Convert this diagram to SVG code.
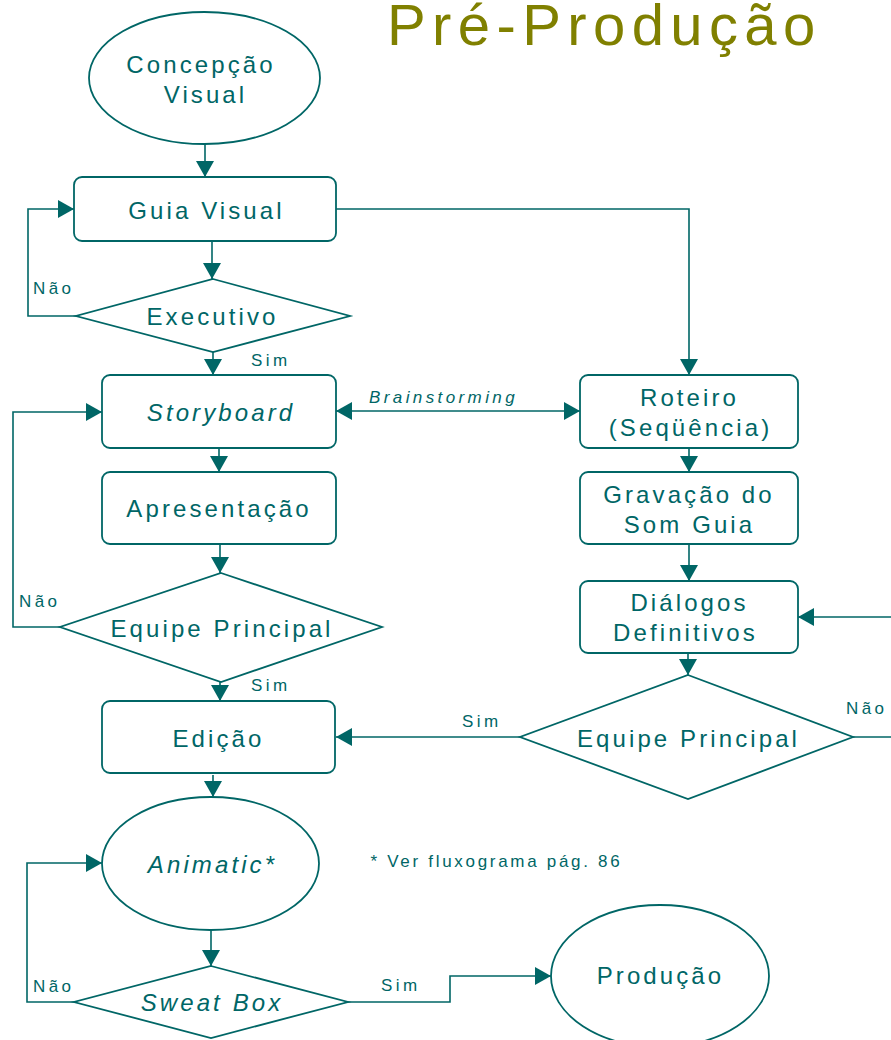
<svg xmlns="http://www.w3.org/2000/svg" width="891" height="1040" viewBox="0 0 891 1040">
  <style>
    .shape { fill: #ffffff; stroke: #006666; stroke-width: 1.8; }
    .wire { fill: none; stroke: #006666; stroke-width: 1.6; }
    .t { font-family: "Liberation Sans", Arial, sans-serif; fill: #006666; font-size: 24px; letter-spacing: 3.1px; text-anchor: middle; }
    .lbl { font-family: "Liberation Sans", Arial, sans-serif; fill: #006666; font-size: 17px; letter-spacing: 3.4px; }
    .it { font-style: italic; }
    .title { font-family: "Liberation Sans", Arial, sans-serif; fill: #808000; font-size: 58px; letter-spacing: 6.4px; }
  </style>
  <defs>
    <marker id="arrow" viewBox="0 0 16 18" refX="16" refY="9" markerWidth="16" markerHeight="18" markerUnits="userSpaceOnUse" orient="auto-start-reverse">
      <path d="M0,0 L16,9 L0,18 z" fill="#006666"/>
    </marker>
  </defs>

  <text class="title" x="387" y="45">Pré-Produção</text>

  <!-- connectors -->
  <g id="connectors">
    <path class="wire" d="M205,144 V177" marker-end="url(#arrow)"/>
    <path class="wire" d="M212,241 V279" marker-end="url(#arrow)"/>
    <path class="wire" d="M76,316 H28 V209 H74" marker-end="url(#arrow)"/>
    <path class="wire" d="M213,352 V375" marker-end="url(#arrow)"/>
    <path class="wire" d="M336,209 H689 V375" marker-end="url(#arrow)"/>
    <path class="wire" d="M336,411 H580" marker-start="url(#arrow)" marker-end="url(#arrow)"/>
    <path class="wire" d="M219,448 V472" marker-end="url(#arrow)"/>
    <path class="wire" d="M220,544 V573" marker-end="url(#arrow)"/>
    <path class="wire" d="M60,627 H13 V412 H102" marker-end="url(#arrow)"/>
    <path class="wire" d="M220,682 V701" marker-end="url(#arrow)"/>
    <path class="wire" d="M689,448 V472" marker-end="url(#arrow)"/>
    <path class="wire" d="M689,544 V581" marker-end="url(#arrow)"/>
    <path class="wire" d="M688,653 V675" marker-end="url(#arrow)"/>
    <path class="wire" d="M520,737 H336" marker-end="url(#arrow)"/>
    <path class="wire" d="M853,737 H891"/>
    <path class="wire" d="M891,617 H798" marker-end="url(#arrow)"/>
    <path class="wire" d="M213,775 V797" marker-end="url(#arrow)"/>
    <path class="wire" d="M211,930 V966" marker-end="url(#arrow)"/>
    <path class="wire" d="M74,1002 H27 V863 H102" marker-end="url(#arrow)"/>
    <path class="wire" d="M348,1002 H450 V976 H551" marker-end="url(#arrow)"/>

    <text class="lbl" x="33" y="294">Não</text>
    <text class="lbl" x="251" y="366">Sim</text>
    <text class="lbl it" x="369" y="403">Brainstorming</text>
    <text class="lbl" x="19" y="607">Não</text>
    <text class="lbl" x="251" y="691">Sim</text>
    <text class="lbl" x="462" y="727">Sim</text>
    <text class="lbl" x="846" y="714">Não</text>
    <text class="lbl" x="33" y="992">Não</text>
    <text class="lbl" x="381" y="991">Sim</text>
  </g>

  <g id="concepcao">
    <ellipse class="shape" cx="204.5" cy="78" rx="115.5" ry="66"/>
    <text class="t" x="201" y="73">Concepção</text>
    <text class="t" x="205.5" y="103">Visual</text>
  </g>

  <g id="guia-visual">
    <rect class="shape" x="74" y="177" width="262" height="64" rx="8"/>
    <text class="t" x="206.5" y="219">Guia Visual</text>
  </g>

  <g id="executivo">
    <polygon class="shape" points="213,279 350,316 213,352 76,316"/>
    <text class="t" x="212.5" y="325">Executivo</text>
  </g>

  <g id="storyboard">
    <rect class="shape" x="102" y="375" width="234" height="73" rx="8"/>
    <text class="t it" x="221" y="421">Storyboard</text>
  </g>

  <g id="apresentacao">
    <rect class="shape" x="102" y="472" width="234" height="72" rx="8"/>
    <text class="t" x="219" y="517">Apresentação</text>
  </g>

  <g id="equipe-principal-1">
    <polygon class="shape" points="221,573 382,627 221,682 60,627"/>
    <text class="t" x="222" y="637">Equipe Principal</text>
  </g>

  <g id="edicao">
    <rect class="shape" x="102" y="701" width="233" height="72" rx="8"/>
    <text class="t" x="218.5" y="747">Edição</text>
  </g>

  <g id="animatic">
    <ellipse class="shape" cx="210.5" cy="863.5" rx="108.5" ry="66.5"/>
    <text class="t it" x="212.5" y="873">Animatic*</text>
  </g>

  <g id="sweat-box">
    <polygon class="shape" points="211,966 348,1002 211,1038 74,1002"/>
    <text class="t it" x="212" y="1011">Sweat Box</text>
  </g>

  <g id="producao">
    <ellipse class="shape" cx="660" cy="976" rx="109" ry="71"/>
    <text class="t" x="660.5" y="984">Produção</text>
  </g>

  <g id="roteiro">
    <rect class="shape" x="580" y="375" width="218" height="73" rx="8"/>
    <text class="t" x="689.5" y="406">Roteiro</text>
    <text class="t" x="690.5" y="436">(Seqüência)</text>
  </g>

  <g id="gravacao">
    <rect class="shape" x="580" y="472" width="218" height="72" rx="8"/>
    <text class="t" x="689" y="503">Gravação do</text>
    <text class="t" x="689.5" y="533">Som Guia</text>
  </g>

  <g id="dialogos">
    <rect class="shape" x="580" y="581" width="218" height="72" rx="8"/>
    <text class="t" x="689.5" y="611">Diálogos</text>
    <text class="t" x="685.5" y="641">Definitivos</text>
  </g>

  <g id="equipe-principal-2">
    <polygon class="shape" points="688,675 853,737 688,799 520,737"/>
    <text class="t" x="688.5" y="747">Equipe Principal</text>
  </g>

  <text class="lbl" x="370.5" y="867" style="letter-spacing:2.7px">* Ver fluxograma pág. 86</text>
</svg>
